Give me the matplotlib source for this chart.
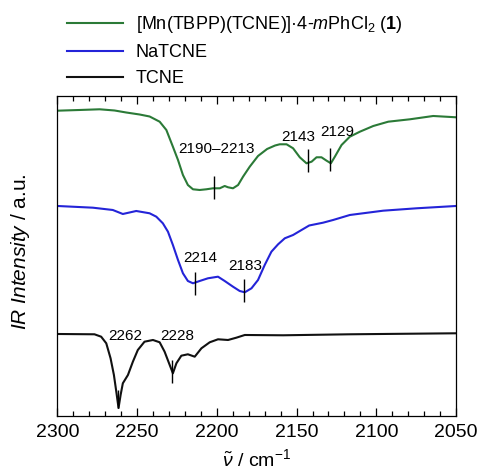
import matplotlib
matplotlib.use('Agg')
import matplotlib.pyplot as plt
from matplotlib.lines import Line2D
from matplotlib.ticker import MultipleLocator

plt.rcParams['font.family'] = ['Liberation Sans', 'DejaVu Sans']
plt.rcParams['mathtext.fontset'] = 'custom'
plt.rcParams['mathtext.rm'] = 'Liberation Sans'
plt.rcParams['mathtext.it'] = 'Liberation Sans:italic'
plt.rcParams['mathtext.bf'] = 'Liberation Sans:bold'

# --- spectra (wavenumber in cm^-1, intensity in arbitrary units, offset per trace) ---
mn_wn = [2300, 2286.2, 2273.6, 2264.2, 2256.9, 2248.5, 2242.2, 2235.9, 2231.7, 2227.6,
         2224.4, 2221.3, 2218.2, 2215.0, 2210.8, 2206.6, 2202.4, 2198.2, 2195.1, 2193.0,
         2189.9, 2186.7, 2183.6, 2179.4, 2174.2, 2168.5, 2163.5, 2160.6, 2156.3, 2152.2,
         2148.0, 2143.8, 2140.6, 2137.5, 2134.4, 2131.2, 2128.5, 2126.0, 2121.8, 2116.6,
         2110.3, 2101.9, 2092.5, 2078.9, 2064.3, 2050]
mn_int = [305.3, 306.0, 306.7, 305.5, 303.5, 301.5, 299.5, 294.3, 286.0, 269.3,
          256.0, 241.0, 231.0, 226.7, 226.0, 226.7, 227.7, 227.7, 230.0, 228.7,
          227.7, 231.0, 239.3, 249.3, 260.0, 267.0, 270.5, 271.7, 271.7, 267.7,
          258.7, 252.7, 254.3, 258.7, 258.7, 255.3, 252.7, 259.3, 271.0, 279.3,
          284.3, 290.0, 294.3, 296.7, 300.0, 298.7]

na_wn = [2300, 2277.8, 2265.3, 2259.0, 2250.6, 2242.2, 2238.0, 2233.9, 2230.7, 2227.6,
         2224.4, 2221.3, 2218.2, 2215.0, 2210.8, 2205.6, 2199.3, 2195.1, 2189.9, 2185.7,
         2182.5, 2178.3, 2174.2, 2170.0, 2165.8, 2161.6, 2157.4, 2152.2, 2146.9, 2142.1,
         2133.4, 2127.1, 2116.6, 2095.7, 2074.7, 2050]
na_int = [210.0, 208.3, 206.0, 202.0, 205.0, 202.7, 199.3, 192.7, 184.3, 171.0,
          156.0, 142.7, 135.0, 132.7, 135.0, 137.7, 139.3, 135.0, 129.3, 125.0,
          123.7, 127.7, 136.0, 151.0, 164.3, 171.7, 177.7, 181.0, 186.0, 190.5,
          193.3, 196.0, 201.0, 205.3, 207.7, 210.0]

tcne_wn = [2300, 2276.8, 2272.6, 2269.4, 2266.7, 2264.6, 2263.1, 2261.7, 2260.4, 2259.0,
           2255.8, 2252.7, 2249.6, 2245.4, 2240.1, 2235.9, 2232.8, 2229.6, 2227.6, 2225.4,
           2222.3, 2218.2, 2213.9, 2209.7, 2204.5, 2199.3, 2193.0, 2187.8, 2182.5, 2158.5,
           2116.6, 2050]
tcne_int = [82.0, 81.7, 79.3, 72.7, 57.7, 41.0, 24.3, 8.0, 21.0, 32.7,
            41.0, 54.3, 66.0, 74.3, 76.0, 73.7, 64.3, 51.0, 42.7, 52.7,
            60.3, 61.7, 59.3, 67.7, 73.7, 76.7, 76.0, 78.3, 81.0, 80.7,
            81.7, 82.7]

series_labels = [r'[Mn(TBPP)(TCNE)]·4-$m$PhCl$_2$ ($\mathbf{1}$)', 'NaTCNE', 'TCNE']
series_colors = ['#2b7a37', '#2424d8', '#111111']

# peak markers: wavenumber, intensity at marker centre, half length
mark_wn = [2202, 2143, 2129, 2214, 2183, 2228, 2262]
mark_int = [228.0, 255.0, 256.7, 132.3, 125.0, 44.7, 17.0]
mark_half = [11.5, 11.5, 11.5, 11.5, 11.5, 11.5, 9.0]

# peak labels: text, wavenumber, intensity
peak_text = ['2190\u20132213', '2143', '2129', '2214', '2183', '2262', '2228']
peak_wn = [2200.3, 2149.0, 2124.6, 2210.4, 2182.0, 2257.3, 2224.8]
peak_int = [266.7, 278.7, 284.3, 157.7, 150.0, 80.0, 80.0]

fig = plt.figure(figsize=(4.79, 4.71), dpi=100)
ax = fig.add_axes([0.12, 0.1168, 0.832, 0.6794])

for wn, inten, c in zip([mn_wn, na_wn, tcne_wn], [mn_int, na_int, tcne_int], series_colors):
    ax.plot(wn, inten, color=c, lw=1.5, solid_joinstyle='round')

ax.vlines(mark_wn, [m - h for m, h in zip(mark_int, mark_half)],
          [m + h for m, h in zip(mark_int, mark_half)], color='black', lw=1.0)

for t, w, i in zip(peak_text, peak_wn, peak_int):
    ax.text(w, i, t, ha='center', va='center', fontsize=11)

ax.set_xlim(2300, 2050)
ax.set_ylim(0, 320)
ax.xaxis.set_major_locator(MultipleLocator(50))
ax.xaxis.set_minor_locator(MultipleLocator(10))
ax.tick_params(axis='x', which='both', direction='in', top=True, bottom=True,
               labelsize=14, pad=6)
ax.tick_params(axis='x', which='major', length=6, width=0.9)
ax.tick_params(axis='x', which='minor', length=3.5, width=0.9)
ax.set_yticks([])
for s in ax.spines.values():
    s.set_linewidth(0.9)

ax.set_xlabel(r'$\tilde{\nu}$ / cm$^{-1}$', fontsize=14, labelpad=5)
ax.set_ylabel(r'$\mathit{IR\ Intensity}$ / a.u.', fontsize=15)
ax.yaxis.set_label_coords(-0.065, 0.515)

handles = [Line2D([], [], color=c, lw=1.5) for c in series_colors]
fig.legend(handles, series_labels, loc='upper left', bbox_to_anchor=(0.14, 0.97),
           frameon=False, fontsize=13, handlelength=3.1, handletextpad=0.7,
           labelspacing=0.5, borderpad=0, borderaxespad=0)

fig.savefig('out.png', dpi=100)
